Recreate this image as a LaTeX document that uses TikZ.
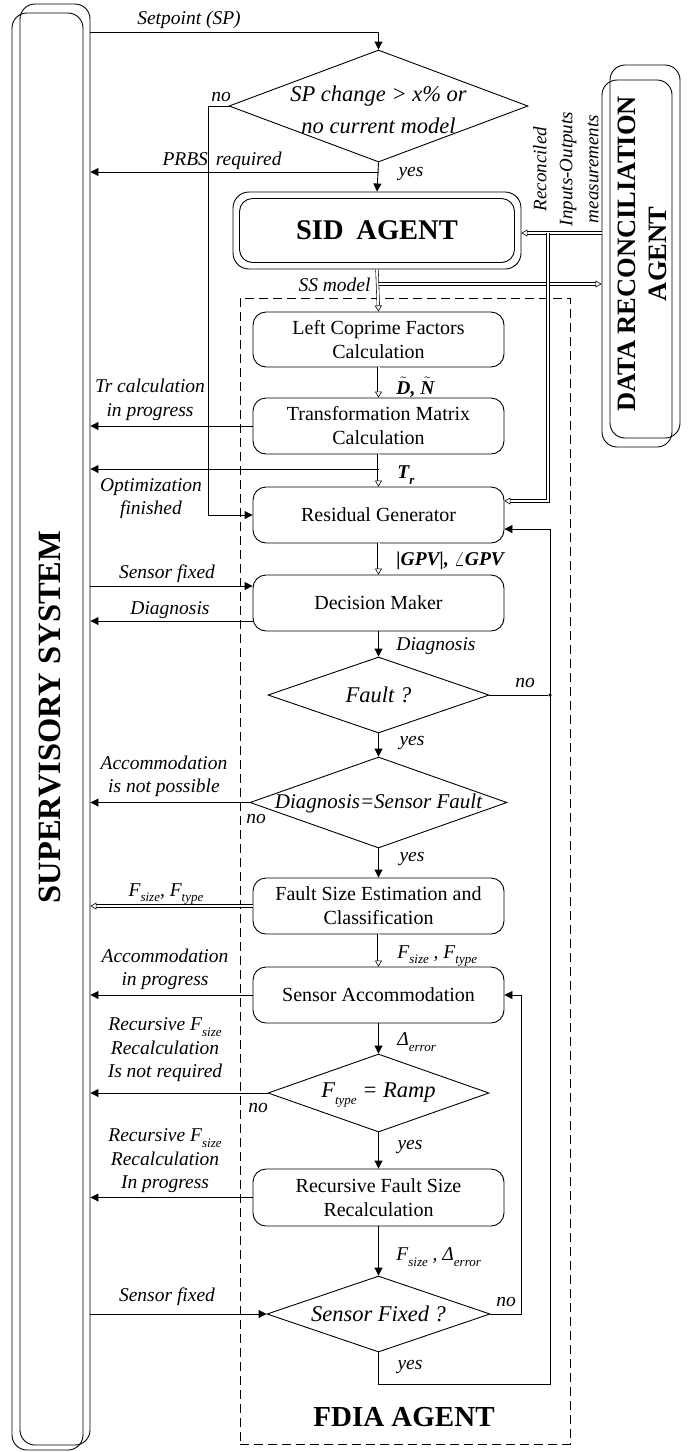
\documentclass[tikz,border=0pt]{standalone}
\usepackage{fontspec}
\setmainfont{Liberation Serif}
\usetikzlibrary{arrows.meta,shapes.geometric,calc}
\newcommand{\lowtext}[1]{\raisebox{-0.28em}{\fontsize{13}{13}\selectfont #1}}
\begin{document}
\begin{tikzpicture}[x=1pt,y=-1pt,
  every node/.style={inner sep=0pt},
  line width=0.9pt,
  lbl/.style={font=\fontsize{19.5}{23.5}\selectfont\itshape, align=center},
  mlbl/.style={font=\fontsize{19.5}{23.5}\selectfont\bfseries\itshape, anchor=west},
  pbox/.style={draw, rounded corners=13pt, minimum width=251pt, minimum height=56pt,
    align=center, font=\fontsize{20}{24}\selectfont},
  dia/.style={draw, diamond, inner sep=0pt},
  dtxt/.style={font=\fontsize{22.5}{32}\selectfont\itshape, align=center},
  agent/.style={draw, rounded corners=15pt},
  arr/.style={-{Triangle[length=8pt,width=8pt]}},
  dbl/.style={double, double distance=2pt, line width=0.6pt, -{Triangle[open,length=6pt,width=7pt]}},
]
\useasboundingbox (0,0) rectangle (690,1452);

% Supervisory system
\node[agent, minimum width=70pt, minimum height=1441pt] (supB) at (55,724.5) {};
\node[agent, minimum width=71pt, minimum height=1437pt] (supA) at (47.5,731.5) {};
\node[rotate=90, font=\fontsize{32.5}{32.5}\selectfont\bfseries] (suptxt) at (50,717) {SUPERVISORY SYSTEM};

% Data reconciliation agent
\node[agent, minimum width=70pt, minimum height=373pt] (drB) at (645,251.5) {};
\node[agent, minimum width=70pt, minimum height=367pt] (drA) at (637,263.5) {};
\node[rotate=90, align=center, font=\fontsize{26.5}{31}\selectfont\bfseries] (drtxt) at (642,254) {DATA RECONCILIATION\\AGENT};

% FDIA dashed frame
\node[draw, dash pattern=on 9pt off 5pt, line width=0.8pt, minimum width=330pt, minimum height=1146pt] (fdia) at (405,871) {};
\node[font=\fontsize{29}{29}\selectfont\bfseries] (fdiatxt) at (404,1417) {FDIA AGENT};

% SID agent
\node[agent, rounded corners=16pt, minimum width=288pt, minimum height=77pt] (sidA) at (377,230.5) {};
\node[agent, rounded corners=13pt, minimum width=275pt, minimum height=64pt, font=\fontsize{28.5}{28.5}\selectfont\bfseries] (sidB) at (377,230.5) {SID\hspace{0.45em}AGENT};

% Diamonds
\node[dia, minimum width=299pt, minimum height=112pt] (d1) at (378.5,106) {};
\node[dtxt] (d1t) at (378.5,110) {SP change > x\% or\\no current model};
\node[dia, minimum width=221pt, minimum height=76pt] (fault) at (378.5,695) {};
\node[dtxt] (faultt) at (378.5,695) {Fault ?};
\node[dia, minimum width=257pt, minimum height=91pt] (dsf) at (378.5,802.5) {};
\node[dtxt, font=\fontsize{21}{24}\selectfont\itshape] (dsft) at (378.5,803) {Diagnosis=Sensor Fault};
\node[dia, minimum width=221pt, minimum height=78pt] (ftype) at (378.5,1093) {};
\node[dtxt] (ftypet) at (378.5,1095) {F\lowtext{type} = Ramp};
\node[dia, minimum width=223pt, minimum height=76pt] (sfix) at (378.5,1314) {};
\node[dtxt] (sfixt) at (378.5,1314) {Sensor Fixed ?};

% Process boxes
\node[pbox, minimum height=55pt] (lc) at (378.5,339.5) {Left Coprime Factors\\Calculation};
\node[pbox] (tm) at (378.5,426) {Transformation Matrix\\Calculation};
\node[pbox] (rg) at (378.5,515) {Residual Generator};
\node[pbox] (dm) at (378.5,603) {Decision Maker};
\node[pbox] (fse) at (378.5,906) {Fault Size Estimation and\\Classification};
\node[pbox] (sa) at (378.5,995) {Sensor Accommodation};
\node[pbox, minimum height=57pt] (rfs) at (378.5,1197.5) {Recursive Fault Size\\Recalculation};

% Coordinates
\coordinate (spc) at (378.5,32);
\coordinate (prbs) at (378.5,172);
\coordinate (ssm) at (378.5,284);
\coordinate (rec) at (548,233);
\coordinate (opt) at (378.5,469);
\coordinate (lp) at (550,1384);
\coordinate (sl) at (521,1314);

% Connectors
\draw[arr] (spc -| supB.east) -- (spc) -- (d1.north);
\node[lbl] (l_sp) at (189,20) {Setpoint (SP)};

\draw[arr] (d1.west) -- ++(-20,0) |- (rg.west);
\node[lbl] (l_no1) at (221,97) {no};

\draw[arr] (prbs) -- (prbs -| supB.east);
\node[lbl] (l_prbs) at (222,161) {PRBS\hspace{0.4em}required};

\draw[arr] (d1.south) -- (sidA.north);
\node[lbl] (l_yes1) at (411,174) {yes};

\draw[dbl] (sidA.south) -- (lc.north);
\draw[dbl] (ssm) -- (ssm -| drA.west);
\node[lbl, anchor=east] (l_ss) at (371,285) {SS model};

\draw[dbl] (rec -| drA.west) -- (rec -| sidA.east);
\draw[dbl] (rec) |- ([yshift=14pt]rg.east);
\node[lbl, rotate=90, font=\fontsize{19}{26}\selectfont\itshape] (l_rec) at (566,169) {Reconciled\\Inputs-Outputs\\measurements};

\draw[dbl] (lc.south) -- (tm.north);
\node[mlbl] (l_dn) at (396,387) {$\tilde{\mbox{\bfseries\itshape D}}$, $\tilde{\mbox{\bfseries\itshape N}}$};

\draw[arr] (tm.west) -- (tm.west -| supB.east);
\node[lbl] (l_tr) at (150,400) {Tr calculation\\in progress};

\draw[dbl] (tm.south) -- (rg.north);
\node[mlbl] (l_t) at (397,475) {T\lowtext{\bfseries\itshape r}};
\draw[arr] (opt) -- (opt -| supB.east);
\node[lbl] (l_opt) at (151,498.5) {Optimization\\finished};

\draw[dbl] (rg.south) -- (dm.north);
\node[mlbl] (l_gpv) at (396,561) {|GPV|, $\angle$GPV};

\draw[arr] ([yshift=17pt]dm.west -| supB.east) -- ([yshift=17pt]dm.west);
\node[lbl] (l_sf1) at (167,574) {Sensor fixed};
\draw[arr] ([yshift=-18pt]dm.west) -- ([yshift=-18pt]dm.west -| supB.east);
\node[lbl] (l_diag1) at (170,610) {Diagnosis};

\draw[arr] (dm.south) -- (fault.north);
\node[lbl, anchor=west] (l_diag2) at (396,646) {Diagnosis};

\node[circle, fill, minimum size=3.5pt] (dot) at (fault.east -| lp) {};
\draw (fault.east) -- (dot);
\node[lbl] (l_no2) at (525,683) {no};

\draw[arr] (fault.south) -- (dsf.north);
\node[lbl] (l_yes2) at (412,743) {yes};

\draw[arr] (dsf.west) -- (dsf.west -| supB.east);
\node[lbl] (l_acc1) at (164,776.5) {Accommodation\\is not possible};
\node[lbl] (l_no3) at (256,819) {no};

\draw[arr] (dsf.south) -- (fse.north);
\node[lbl] (l_yes3) at (412,859) {yes};

\draw[dbl] (fse.west) -- (fse.west -| supB.east);
\node[lbl] (l_fs1) at (166,894) {F\lowtext{size}, F\lowtext{type}};

\draw[dbl] (fse.south) -- (sa.north);
\node[lbl, anchor=west] (l_fs2) at (397,956) {F\lowtext{size} , F\lowtext{type}};

\draw[arr] (sa.west) -- (sa.west -| supB.east);
\node[lbl] (l_acc2) at (165,969.5) {Accommodation\\in progress};

\draw[arr] (sa.south) -- (ftype.north);
\node[lbl, anchor=west] (l_de1) at (397,1042) {Δ\lowtext{error}};

\draw[arr] (ftype.west) -- (ftype.west -| supB.east);
\node[lbl] (l_rec1) at (165,1050) {Recursive F\lowtext{size}\\Recalculation\\Is not required};
\node[lbl] (l_no4) at (258,1108) {no};

\draw[arr] (ftype.south) -- (rfs.north);
\node[lbl] (l_yes4) at (410,1147) {yes};

\draw[arr] (rfs.west) -- (rfs.west -| supB.east);
\node[lbl] (l_rec2) at (165,1161) {Recursive F\lowtext{size}\\Recalculation\\In progress};

\draw[arr] (rfs.south) -- (sfix.north);
\node[lbl, anchor=west] (l_fsd) at (396,1257) {F\lowtext{size} , Δ\lowtext{error}};

\draw[arr] (sfix.west -| supB.east) -- (sfix.west);
\node[lbl] (l_sf2) at (167,1297) {Sensor fixed};

\draw[arr] (sfix.east) -- (sl) |- (sa.east);
\node[lbl] (l_no5) at (506,1302) {no};

\draw[arr] (sfix.south) -- (sfix.south |- lp) -- (lp) |- ([yshift=-14pt]rg.east);
\node[lbl] (l_yes5) at (410,1367) {yes};

\end{tikzpicture}
\end{document}
